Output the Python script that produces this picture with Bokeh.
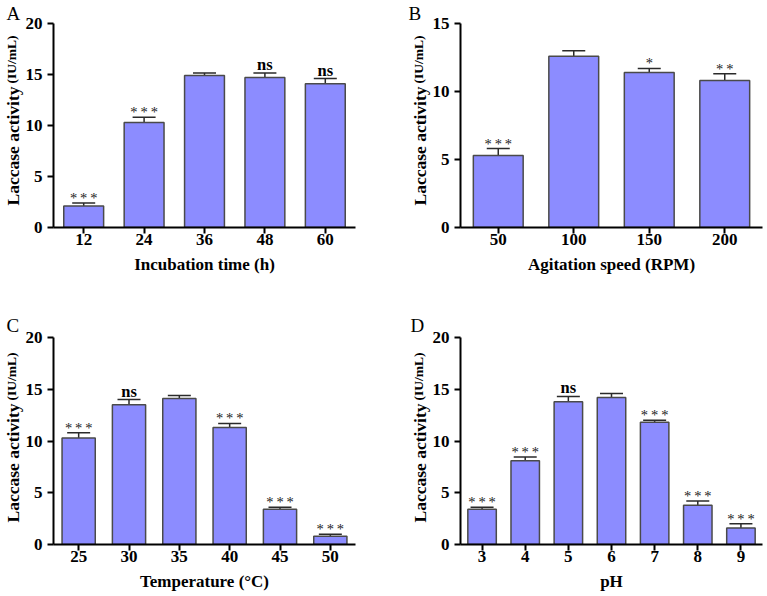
from bokeh.plotting import figure
from bokeh.models import (ColumnDataSource, FactorRange, Range1d, Whisker, TeeHead,
                          Title, FixedTicker)
from bokeh.layouts import gridplot
from bokeh.core.properties import value
from bokeh.embed import file_html
from bokeh.resources import INLINE

# ---------------- data ----------------
cats_a = ["12", "24", "36", "48", "60"]
vals_a = [2.1, 10.3, 14.9, 14.7, 14.1]
err_a = [0.3, 0.5, 0.25, 0.45, 0.5]
sig_a = ["***", "***", "", "ns", "ns"]

cats_b = ["50", "100", "150", "200"]
vals_b = [5.3, 12.6, 11.4, 10.8]
err_b = [0.5, 0.4, 0.3, 0.5]
sig_b = ["***", "", "*", "**"]

cats_c = ["25", "30", "35", "40", "45", "50"]
vals_c = [10.3, 13.5, 14.1, 11.3, 3.4, 0.8]
err_c = [0.5, 0.5, 0.3, 0.4, 0.2, 0.2]
sig_c = ["***", "ns", "", "***", "***", "***"]

cats_d = ["3", "4", "5", "6", "7", "8", "9"]
vals_d = [3.4, 8.1, 13.8, 14.2, 11.8, 3.8, 1.6]
err_d = [0.2, 0.35, 0.5, 0.4, 0.2, 0.4, 0.4]
sig_d = ["***", "***", "ns", "", "***", "***", "***"]

ticks_20 = [0, 5, 10, 15, 20]
ticks_15 = [0, 5, 10, 15]

y_title_main = "Laccase activity"
y_title_unit = "(IU/mL)"

FONT = "Liberation Serif"
BAR_FILL = "#8c8cff"
BAR_LINE = "#4a4a4a"
ERR_COL = "#2a2a2a"


def panel(cats, vals, errs, sigs, ymax, ticks, xtitle, letter,
          width, height, left, right, top, bottom, letter_dx, letter_standoff):
    p = figure(width=width, height=height, output_backend="svg",
               toolbar_location=None,
               x_range=FactorRange(*cats), y_range=Range1d(0, ymax),
               min_border_left=left, min_border_right=right,
               min_border_top=top, min_border_bottom=bottom)
    p.outline_line_color = None
    p.xgrid.visible = False
    p.ygrid.visible = False

    upper = [v + e for v, e in zip(vals, errs)]
    src = ColumnDataSource(dict(x=cats, top=vals, upper=upper))
    p.vbar(x="x", top="top", width=0.66, source=src,
           fill_color=BAR_FILL, line_color=BAR_LINE, line_width=1.5)
    w = Whisker(source=src, base="x", lower="top", upper="upper",
                dimension="height", line_color=ERR_COL, line_width=1.5,
                upper_head=TeeHead(size=23, line_color=ERR_COL, line_width=1.5),
                lower_head=None)
    p.add_layout(w)

    # significance marks
    sx, sy, st = [], [], []
    nx, ny, nt = [], [], []
    for c, u, s in zip(cats, upper, sigs):
        if not s:
            continue
        if s == "ns":
            nx.append(c); ny.append(u); nt.append(s)
        else:
            sx.append(c); sy.append(u); st.append("\u2009".join(list(s)))
    if st:
        p.text(x=sx, y=sy, text=st, text_font=value(FONT), text_font_size="14.5px",
               text_color="#222222", text_align="center",
               text_baseline="bottom", y_offset=3)
    if nt:
        p.text(x=nx, y=ny, text=nt, text_font=value(FONT), text_font_size="16.5px",
               text_font_style="bold", text_color="black", text_align="center",
               text_baseline="bottom", y_offset=1)

    for ax in (p.xaxis[0], p.yaxis[0]):
        ax.axis_line_width = 2
        ax.axis_line_color = "black"
        ax.major_tick_line_width = 2
        ax.major_tick_line_color = "black"
        ax.major_tick_in = 0
        ax.major_tick_out = 6
        ax.minor_tick_line_color = None
        ax.major_label_text_font = FONT
        ax.major_label_text_font_style = "bold"
        ax.major_label_text_font_size = "17px"
        ax.major_label_text_color = "black"
    p.yaxis[0].ticker = FixedTicker(ticks=ticks)
    p.yaxis[0].major_label_standoff = 5
    p.xaxis[0].major_label_standoff = 0
    p.xaxis[0].axis_label = xtitle
    p.xaxis[0].axis_label_text_font = FONT
    p.xaxis[0].axis_label_text_font_style = "bold"
    p.xaxis[0].axis_label_text_font_size = "17px"
    p.xaxis[0].axis_label_text_color = "black"
    p.xaxis[0].axis_label_standoff = 7

    # y-axis title in two sizes, as side-panel titles
    p.add_layout(Title(text=y_title_main, align="left", offset=22, standoff=0,
                       text_font=FONT, text_font_style="bold",
                       text_font_size="17.5px", text_color="black",
                       vertical_align="bottom"), "left")
    p.add_layout(Title(text=y_title_unit, align="left", offset=144, standoff=-37,
                       text_font=FONT, text_font_style="bold",
                       text_font_size="13.5px", text_color="black",
                       vertical_align="bottom"), "left")
    # panel letter
    p.add_layout(Title(text=letter, align="left", offset=letter_dx,
                       standoff=letter_standoff, text_font=FONT,
                       text_font_style="normal", text_font_size="19px",
                       text_color="black", vertical_align="bottom"), "above")
    return p


pa = panel(cats_a, vals_a, err_a, sig_a, 20, ticks_20, "Incubation time (h)", "A",
           380, 290, 50, 25, 23, 63, -47, 0)
pb = panel(cats_b, vals_b, err_b, sig_b, 15, ticks_15, "Agitation speed (RPM)", "B",
           387, 290, 80, 4, 23, 63, -52, 0)
pc = panel(cats_c, vals_c, err_c, sig_c, 20, ticks_20, "Temperature (\u00b0C)", "C",
           380, 306, 50, 18, 47, 52, -47, 4)
pd = panel(cats_d, vals_d, err_d, sig_d, 20, ticks_20, "pH", "D",
           387, 306, 78, 5, 47, 52, -50, 4)

grid = gridplot([[pa, pb], [pc, pd]], toolbar_location=None)

open("out.html", "w").write(file_html(grid, INLINE))
